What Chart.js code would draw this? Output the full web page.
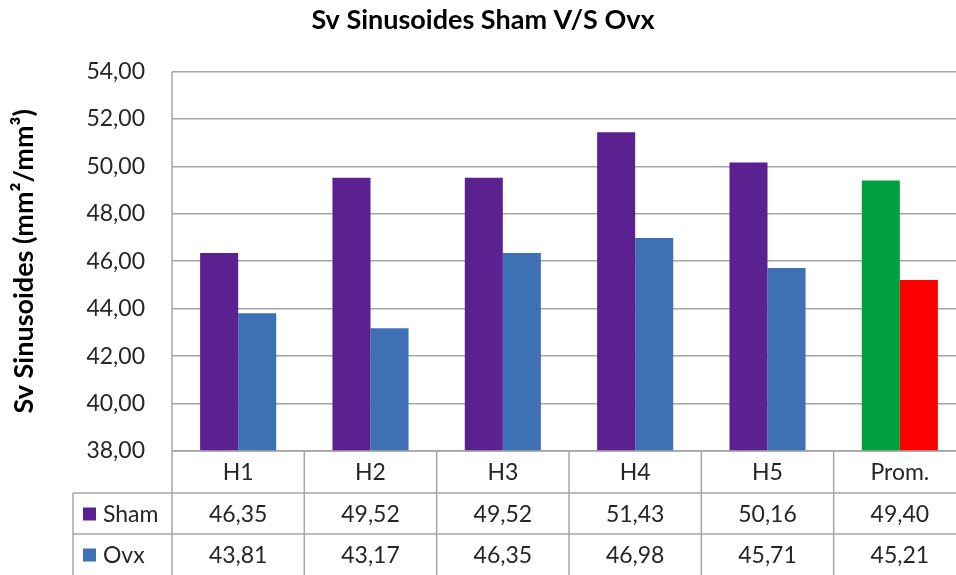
<!DOCTYPE html>
<html>
<head>
<meta charset="utf-8">
<script src="https://cdn.jsdelivr.net/npm/chart.js@4"></script>
<style>
  html, body { margin: 0; padding: 0; background: #fff; overflow: hidden; }
  #wrap { width: 975px; height: 575px; }
</style>
</head>
<body>
<div id="wrap"><canvas id="chart" width="975" height="575"></canvas></div>
<script>
var categories = ['H1', 'H2', 'H3', 'H4', 'H5', 'Prom.'];
var shamValues = [46.35, 49.52, 49.52, 51.43, 50.16, 49.40];
var ovxValues = [43.81, 43.17, 46.35, 46.98, 45.71, 45.21];
var seriesNames = ['Sham', 'Ovx'];

var purple = '#5c2190';
var blue = '#3e70b5';
var green = '#00a03e';
var red = '#ff0000';
var gridColor = '#a6a6a6';
var textColor = '#262626';
var FONT = 'Lato, "Open Sans", sans-serif';

var fmt = (v) => v.toFixed(2).replace('.', ',');

var shamColors = categories.map((c, i) => i === categories.length - 1 ? green : purple);
var ovxColors = categories.map((c, i) => i === categories.length - 1 ? red : blue);

// data table under the plot, drawn on the x scale's categories
var dataTable = {
    id: 'dataTable',
    afterDraw: (chart) => {
        var ctx = chart.ctx;
        var area = chart.chartArea;
        var x = chart.scales.x;
        var half = (x.getPixelForValue(1) - x.getPixelForValue(0)) / 2;
        var rows = [area.bottom, area.bottom + 42, area.bottom + 83, area.bottom + 124];
        var labelLeft = 73;
        var right = x.getPixelForValue(categories.length - 1) + half;

        ctx.save();
        ctx.strokeStyle = gridColor;
        ctx.lineWidth = 1.5;
        ctx.beginPath();
        // horizontals
        ctx.moveTo(area.left, rows[0]); ctx.lineTo(right, rows[0]);
        ctx.moveTo(labelLeft, rows[1]); ctx.lineTo(right, rows[1]);
        ctx.moveTo(labelLeft, rows[2]); ctx.lineTo(right, rows[2]);
        // verticals
        ctx.moveTo(labelLeft, rows[1]); ctx.lineTo(labelLeft, rows[3]);
        ctx.moveTo(area.left, area.top); ctx.lineTo(area.left, rows[3]);
        for (var i = 0; i < categories.length; i++) {
            var bx = x.getPixelForValue(i) + half;
            ctx.moveTo(bx, rows[0]); ctx.lineTo(bx, rows[3]);
        }
        ctx.stroke();

        ctx.fillStyle = textColor;
        ctx.font = '23px ' + FONT;
        ctx.textAlign = 'center';
        ctx.textBaseline = 'middle';
        categories.forEach((c, i) => {
            var cx = x.getPixelForValue(i);
            ctx.fillText(c, cx, (rows[0] + rows[1]) / 2 + 1);
            ctx.fillText(fmt(shamValues[i]), cx, (rows[1] + rows[2]) / 2 + 1);
            ctx.fillText(fmt(ovxValues[i]), cx, (rows[2] + rows[3]) / 2 + 1);
        });

        var markers = [purple, blue];
        ctx.textAlign = 'left';
        seriesNames.forEach((name, k) => {
            var cy = (rows[k + 1] + rows[k + 2]) / 2;
            ctx.fillStyle = markers[k];
            ctx.fillRect(83, cy - 6, 13, 13);
            ctx.fillStyle = textColor;
            ctx.fillText(name, 103, cy + 1);
        });
        ctx.restore();
    }
};

new Chart(
    document.getElementById('chart'),
    {
        type: 'bar',
        data: {
            labels: categories,
            datasets: [{
                label: seriesNames[0],
                data: shamValues,
                backgroundColor: shamColors
            }, {
                label: seriesNames[1],
                data: ovxValues,
                backgroundColor: ovxColors
            }]
        },
        options: {
            responsive: false,
            animation: false,
            layout: {
                padding: { left: 0, right: 9, top: 0, bottom: 124 }
            },
            datasets: {
                bar: {
                    categoryPercentage: 0.575,
                    barPercentage: 1.0,
                    borderWidth: 0
                }
            },
            plugins: {
                legend: { display: false },
                tooltip: { enabled: false },
                title: {
                    display: true,
                    text: 'Sv Sinusoides Sham V/S Ovx',
                    color: '#000',
                    font: { family: FONT, size: 27, weight: 'bold' },
                    padding: { top: 4, bottom: 35 }
                }
            },
            scales: {
                x: {
                    display: false,
                    grid: { display: false }
                },
                y: {
                    min: 38,
                    max: 54,
                    afterFit: (scale) => { scale.width = 172; },
                    ticks: {
                        stepSize: 2,
                        color: textColor,
                        padding: 27,
                        font: { family: FONT, size: 23 },
                        callback: (value) => fmt(value)
                    },
                    grid: {
                        color: gridColor,
                        lineWidth: 1.5,
                        drawTicks: false
                    },
                    border: { display: false },
                    title: {
                        display: true,
                        text: 'Sv Sinusoides (mm²/mm³)',
                        color: '#000',
                        font: { family: FONT, size: 27, weight: 'bold' },
                        padding: { top: 8, bottom: 0 }
                    }
                }
            }
        },
        plugins: [dataTable]
    }
);
</script>
</body>
</html>
